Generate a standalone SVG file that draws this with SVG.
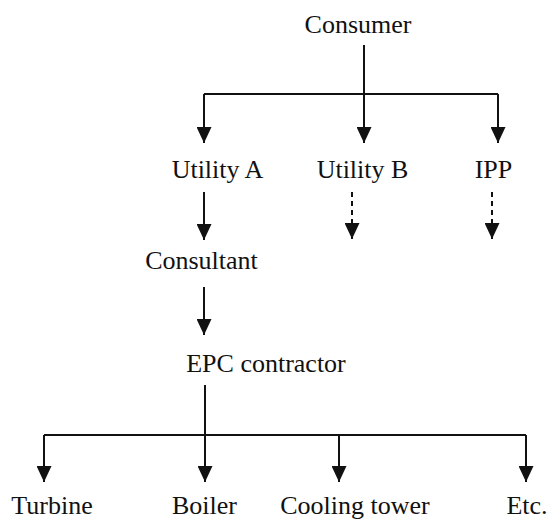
<svg xmlns="http://www.w3.org/2000/svg" width="550" height="521" viewBox="0 0 550 521">
<style>
text { font-family: "Liberation Serif", "Times New Roman", serif; font-size: 26px; fill: #111; text-anchor: middle; }
.c { stroke: #111; stroke-width: 2; fill: none; }
.a { marker-end: url(#ah); }
.d { stroke-dasharray: 5,4; }
</style>
<defs>
<marker id="ah" viewBox="0 0 16 15" refX="16" refY="7.5" markerWidth="16" markerHeight="15" markerUnits="userSpaceOnUse" orient="auto">
<path d="M0,0 L16,7.5 L0,15 z" fill="#111"/>
</marker>
</defs>
<rect width="550" height="521" fill="#fff"/>
<g id="connectors">
<path class="c a" d="M364,45 V143"/>
<path class="c" d="M204,94 H498"/>
<path class="c a" d="M204,94 V143"/>
<path class="c a" d="M498,94 V143"/>
<path class="c a" d="M204,192 V240"/>
<path class="c a d" d="M352,192 V239"/>
<path class="c a d" d="M492,192 V239"/>
<path class="c a" d="M204,287 V335"/>
<path class="c a" d="M205,385 V482"/>
<path class="c" d="M44,435 H526"/>
<path class="c a" d="M44,435 V482"/>
<path class="c a" d="M339,435 V482"/>
<path class="c a" d="M526,435 V482"/>
</g>
<g id="consumer"><text x="358" y="33">Consumer</text></g>
<g id="utility-a"><text x="217.5" y="178">Utility A</text></g>
<g id="utility-b"><text x="362.5" y="178">Utility B</text></g>
<g id="ipp"><text x="493.5" y="178">IPP</text></g>
<g id="consultant"><text x="201.5" y="269">Consultant</text></g>
<g id="epc-contractor"><text x="266" y="372">EPC contractor</text></g>
<g id="turbine"><text x="52" y="514">Turbine</text></g>
<g id="boiler"><text x="204.5" y="514">Boiler</text></g>
<g id="cooling-tower"><text x="355" y="514">Cooling tower</text></g>
<g id="etc"><text x="527" y="514">Etc.</text></g>
</svg>
